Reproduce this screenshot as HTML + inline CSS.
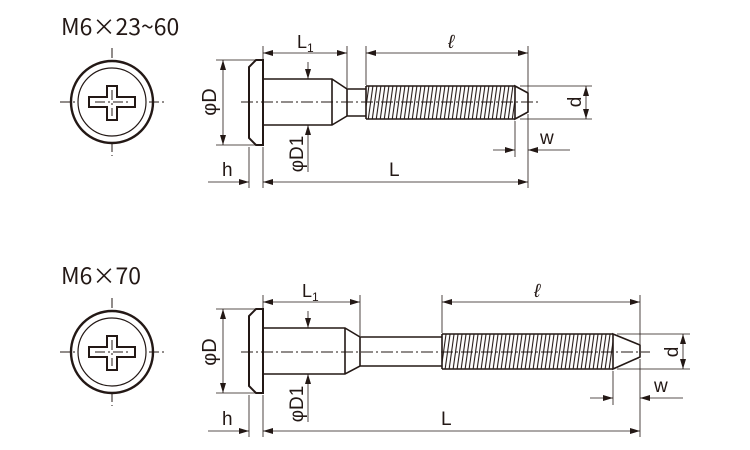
<!DOCTYPE html>
<html><head><meta charset="utf-8"><style>
html,body{margin:0;padding:0;background:#fff;width:750px;height:450px;overflow:hidden}
svg text{font-family:"Liberation Sans","Noto Sans CJK JP",sans-serif;fill:#231815}
svg text.t{font-family:"Noto Sans CJK JP",sans-serif}
</style></head><body>
<svg width="750" height="450" viewBox="0 0 750 450" xmlns="http://www.w3.org/2000/svg">
<defs>
<pattern id="th" width="4" height="40" patternUnits="userSpaceOnUse" patternTransform="skewX(-8)">
<rect width="4" height="40" fill="#fff"/>
<line x1="1" y1="0" x2="1" y2="40" stroke="#231815" stroke-width="1.1"/>
</pattern>
<marker id="a" viewBox="0 0 10 6" refX="10" refY="3" markerWidth="10" markerHeight="6" markerUnits="userSpaceOnUse" orient="auto-start-reverse">
<path d="M0,0 L10,3 L0,6 z" fill="#231815"/>
</marker>
</defs>
<g stroke="#231815" fill="none">
<!-- ========== Screw 1 ========== -->
<text class="t" x="61" y="35" font-size="23" stroke="none">M6×23~60</text>
<circle cx="112" cy="102" r="41" stroke-width="2.4"/>
<circle cx="112" cy="102" r="34" stroke-width="1.2"/>
<path d="M89,97 H107 V86 H117 V97 H135 V107 H117 V120 H107 V107 H89 Z" stroke-width="2"/>
<path d="M112,48 V62 M112,142 V156 M60,102 H75 M149,102 H165 M95,102 H129 M112,90 V116" stroke-width="1" stroke-dasharray="10,3,2,3"/>
<path d="M256,60 H263 V145 H256 L249,138 V67 Z" stroke-width="2"/>
<path d="M263,79 H332 L347,89 H366 M263,125 H332 L347,116 H366 M332,79 V125 M347,89 V116" stroke-width="1.6"/>
<rect x="366" y="86" width="149" height="33" fill="url(#th)" stroke="none"/>
<path d="M366,86 H515 M366,119 H515 M366,86 V119" stroke-width="1.6"/>
<path d="M515,86 L528,93 V112 L515,119 Z" stroke-width="1.6"/>
<path d="M241,102 H538" stroke-width="0.9" stroke-dasharray="12,3,2,3"/>
<path d="M263,46 V78 M347,46 V88 M366,46 V85 M528,46 V92 M216,60 H255 M216,145 H255" stroke-width="0.8"/>
<path d="M263,53 H347" stroke-width="0.8" marker-start="url(#a)" marker-end="url(#a)"/>
<path d="M366,53 H528" stroke-width="0.8" marker-start="url(#a)" marker-end="url(#a)"/>
<path d="M223,60 V145" stroke-width="0.8" marker-start="url(#a)" marker-end="url(#a)"/>
<text x="297" y="48" font-size="18" stroke="none">L<tspan font-size="12" dy="4">1</tspan></text>
<text x="448" y="48" font-size="19" font-style="italic" stroke="none">ℓ</text>
<text transform="translate(216,102) rotate(-90)" text-anchor="middle" font-size="20" stroke="none">φD</text>
<path d="M308,62 V79" stroke-width="0.8" marker-end="url(#a)"/>
<path d="M308,172 V125" stroke-width="0.8" marker-end="url(#a)"/>
<text transform="translate(303,154) rotate(-90)" text-anchor="middle" font-size="19" stroke="none">φD1</text>
<path d="M520,86 H592 M520,119 H592" stroke-width="0.8"/>
<path d="M586,86 V119" stroke-width="0.8" marker-start="url(#a)" marker-end="url(#a)"/>
<text transform="translate(581,102) rotate(-90)" text-anchor="middle" font-size="19" stroke="none">d</text>
<path d="M515,121 V157 M528,114 V188 M249,147 V188 M263,147 V188" stroke-width="0.8"/>
<path d="M493,150 H515" stroke-width="0.8" marker-end="url(#a)"/>
<path d="M570,150 H528" stroke-width="0.8" marker-end="url(#a)"/>
<path d="M208,182 H249" stroke-width="0.8" marker-end="url(#a)"/>
<path d="M263,182 H528" stroke-width="0.8" marker-start="url(#a)" marker-end="url(#a)"/>
<text x="540" y="144" font-size="19" stroke="none">w</text>
<text x="222" y="176" font-size="19" stroke="none">h</text>
<text x="389" y="176" font-size="19" stroke="none">L</text>

<!-- ========== Screw 2 ========== -->
<text class="t" x="61" y="284" font-size="23" stroke="none">M6×70</text>
<circle cx="112" cy="352" r="41" stroke-width="2.4"/>
<circle cx="112" cy="352" r="34" stroke-width="1.2"/>
<path d="M89,347 H107 V336 H117 V347 H135 V357 H117 V370 H107 V357 H89 Z" stroke-width="2"/>
<path d="M112,298 V312 M112,392 V406 M60,352 H75 M149,352 H165 M95,352 H129 M112,340 V366" stroke-width="1" stroke-dasharray="10,3,2,3"/>
<path d="M256,309 H263 V393 H256 L249,386 V316 Z" stroke-width="2"/>
<path d="M263,328 H345 L360,337 H442 M263,374 H345 L360,366 H442 M345,328 V374 M360,337 V366" stroke-width="1.6"/>
<rect x="442" y="334" width="171" height="35" fill="url(#th)" stroke="none"/>
<path d="M442,334 H613 M442,369 H613 M442,334 V369" stroke-width="1.6"/>
<path d="M613,334 L640,345 V357 L613,369 Z" stroke-width="1.6"/>
<path d="M241,352 H650" stroke-width="0.9" stroke-dasharray="12,3,2,3"/>
<path d="M263,295 V327 M360,295 V336 M442,295 V333 M640,295 V344 M216,309 H255 M216,393 H255" stroke-width="0.8"/>
<path d="M263,302 H360" stroke-width="0.8" marker-start="url(#a)" marker-end="url(#a)"/>
<path d="M442,302 H640" stroke-width="0.8" marker-start="url(#a)" marker-end="url(#a)"/>
<path d="M223,309 V393" stroke-width="0.8" marker-start="url(#a)" marker-end="url(#a)"/>
<text x="302" y="297" font-size="18" stroke="none">L<tspan font-size="12" dy="4">1</tspan></text>
<text x="534" y="297" font-size="19" font-style="italic" stroke="none">ℓ</text>
<text transform="translate(216,352) rotate(-90)" text-anchor="middle" font-size="20" stroke="none">φD</text>
<path d="M308,311 V328" stroke-width="0.8" marker-end="url(#a)"/>
<path d="M308,422 V374" stroke-width="0.8" marker-end="url(#a)"/>
<text transform="translate(303,404) rotate(-90)" text-anchor="middle" font-size="19" stroke="none">φD1</text>
<path d="M617,334 H690 M617,369 H690" stroke-width="0.8"/>
<path d="M683,334 V369" stroke-width="0.8" marker-start="url(#a)" marker-end="url(#a)"/>
<text transform="translate(678,352) rotate(-90)" text-anchor="middle" font-size="19" stroke="none">d</text>
<path d="M613,371 V405 M640,359 V437 M249,395 V437 M263,395 V437" stroke-width="0.8"/>
<path d="M590,398 H613" stroke-width="0.8" marker-end="url(#a)"/>
<path d="M683,398 H640" stroke-width="0.8" marker-end="url(#a)"/>
<path d="M208,431 H249" stroke-width="0.8" marker-end="url(#a)"/>
<path d="M263,431 H640" stroke-width="0.8" marker-start="url(#a)" marker-end="url(#a)"/>
<text x="654" y="392" font-size="19" stroke="none">w</text>
<text x="222" y="425" font-size="19" stroke="none">h</text>
<text x="441" y="425" font-size="19" stroke="none">L</text>
</g>
</svg>
</body></html>
